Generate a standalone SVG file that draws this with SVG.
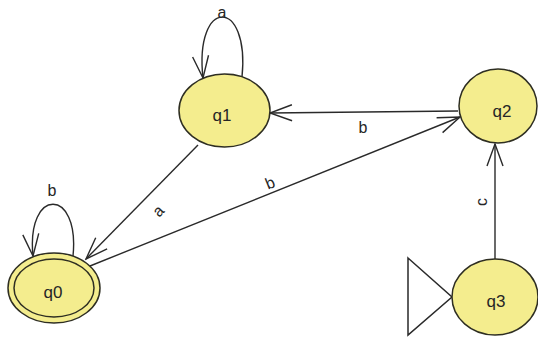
<svg xmlns="http://www.w3.org/2000/svg" width="538" height="337" viewBox="0 0 538 337">
<style>
.st{fill:#f4ed8e;stroke:#2e2e22;stroke-width:1.5}
.nm{font-family:"Liberation Sans",Arial,sans-serif;font-size:17px;fill:#262626;text-anchor:middle}
.lb{font-family:"Liberation Sans",Arial,sans-serif;font-size:16px;fill:#262626;text-anchor:middle}
.e{fill:none;stroke:#2a2a2a;stroke-width:1.4}
</style>
<defs>
<marker id="ah" viewBox="-24 -10 26 20" refX="0" refY="0" markerWidth="26" markerHeight="20" markerUnits="userSpaceOnUse" orient="auto">
<path d="M-22,-8 L0,0 L-22,8" fill="none" stroke="#2a2a2a" stroke-width="1.4"/>
</marker>
</defs>
<rect width="538" height="337" fill="#ffffff"/>
<g id="connectors">
<path class="e" d="M242,77 C250,-3 194,-3 203,78" marker-end="url(#ah)"/>
<path class="e" d="M73,256 C80,187 26,187 33,256" marker-end="url(#ah)"/>
<path class="e" d="M458,111 L270,113" marker-end="url(#ah)"/>
<path class="e" d="M90,266 L460,117" marker-end="url(#ah)"/>
<path class="e" d="M198,145 L86,259" marker-end="url(#ah)"/>
<path class="e" d="M495,259 L495,144" marker-end="url(#ah)"/>
<text class="lb" x="222" y="12" dy="0.35em">a</text>
<text class="lb" x="52" y="190" dy="0.35em">b</text>
<text class="lb" x="363" y="127" dy="0.35em">b</text>
<text class="lb" transform="translate(158,211) rotate(-46)" dy="0.35em">a</text>
<text class="lb" transform="translate(270,183) rotate(-22)" dy="0.35em">b</text>
<text class="lb" transform="translate(481,202) rotate(-90)" dy="0.35em">c</text>
</g>
<g id="q0">
<ellipse class="st" cx="54" cy="288" rx="46" ry="35"/>
<ellipse class="st" cx="54" cy="288" rx="40" ry="29"/>
<text class="nm" x="53" y="298">q0</text>
</g>
<g id="q1">
<ellipse class="st" cx="224.5" cy="110.5" rx="45.5" ry="36.5"/>
<text class="nm" x="222" y="121">q1</text>
</g>
<g id="q2">
<ellipse class="st" cx="498" cy="106" rx="39" ry="37"/>
<text class="nm" x="502" y="117">q2</text>
</g>
<g id="q3">
<polygon points="408,258 452,297 408,335" fill="none" stroke="#2a2a2a" stroke-width="1.5"/>
<ellipse class="st" cx="495" cy="297" rx="43" ry="38"/>
<text class="nm" x="496" y="307">q3</text>
</g>
</svg>
